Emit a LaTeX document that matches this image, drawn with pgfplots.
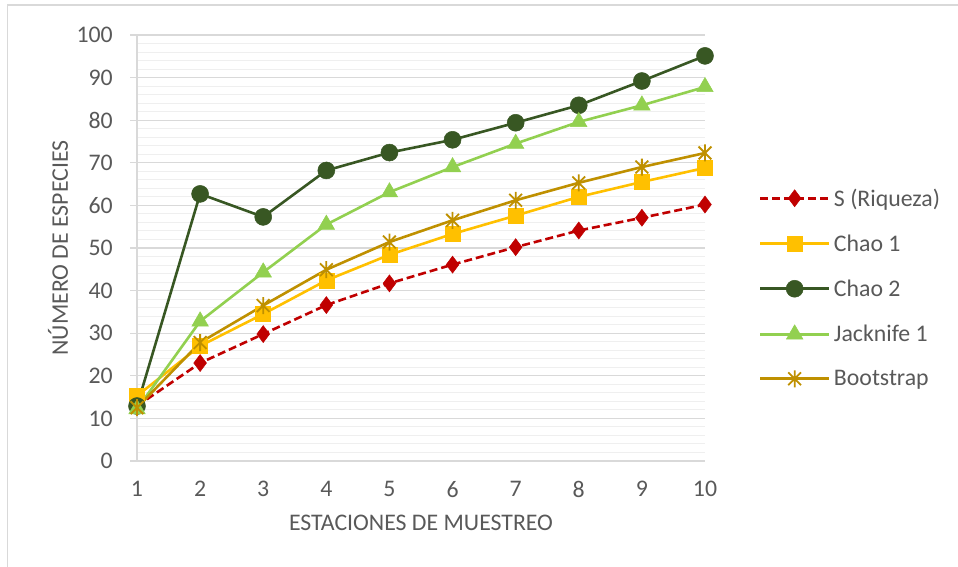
\documentclass[border=0pt]{standalone}
\usepackage{pgfplots}
\pgfplotsset{compat=1.18}
\usepackage{fontspec}
\setmainfont{Carlito}

\definecolor{txtgray}{HTML}{595959}
\definecolor{gridmaj}{HTML}{D9D9D9}
\definecolor{gridmin}{HTML}{EFEFEF}
\definecolor{cS}{HTML}{C00000}
\definecolor{cChaoA}{HTML}{FFC000}
\definecolor{cChaoB}{HTML}{385723}
\definecolor{cJack}{HTML}{92D050}
\definecolor{cBoot}{HTML}{BF9000}

% asterisk made of a vertical bar and a cross
\pgfdeclareplotmark{xstar}{%
  \pgfpathmoveto{\pgfqpoint{0pt}{\pgfplotmarksize}}%
  \pgfpathlineto{\pgfqpoint{0pt}{-\pgfplotmarksize}}%
  \pgfpathmoveto{\pgfqpoint{-0.75\pgfplotmarksize}{0.75\pgfplotmarksize}}%
  \pgfpathlineto{\pgfqpoint{0.75\pgfplotmarksize}{-0.75\pgfplotmarksize}}%
  \pgfpathmoveto{\pgfqpoint{-0.75\pgfplotmarksize}{-0.75\pgfplotmarksize}}%
  \pgfpathlineto{\pgfqpoint{0.75\pgfplotmarksize}{0.75\pgfplotmarksize}}%
  \pgfusepathqstroke}

\newcommand{\chartfont}{\fontsize{23.8}{28}\selectfont}

\begin{document}
\begin{tikzpicture}
\useasboundingbox (0pt,0pt) rectangle (958pt,567pt);
\draw[gridmaj, line width=1.3pt] (7.5pt,-50pt) -- (7.5pt,562pt) -- (1000pt,562pt);
\begin{axis}[
  at={(137pt,106pt)}, anchor=south west,
  scale only axis, width=568pt, height=426pt,
  xmin=1, xmax=10, ymin=0, ymax=100,
  xtick={1,...,10}, ytick={0,10,...,100},
  minor y tick num=4,
  ymajorgrids, yminorgrids,
  major grid style={gridmaj, line width=1.2pt},
  minor grid style={gridmin, line width=1pt},
  axis x line*=bottom, axis y line*=left,
  axis line style={gridmaj, line width=1.2pt, -},
  tick align=outside, major tick length=7pt, minor tick length=0pt,
  ytick style={gridmaj, line width=1.2pt},
  xtick style={draw=none},
  /pgf/number format/assume math mode=true,
  tick label style={font=\chartfont, text=txtgray},
  yticklabel style={anchor=east, inner sep=0pt, xshift=-17pt},
  xticklabel style={anchor=north, inner sep=0pt, yshift=-13pt},
  label style={font=\chartfont, text=txtgray},
  xlabel={ESTACIONES DE MUESTREO},
  ylabel={NÚMERO DE ESPECIES},
  xlabel style={at={(axis description cs:0.5,-0.1455)}, anchor=center},
  ylabel style={at={(axis description cs:-0.139,0.5)}, anchor=center},
  legend cell align=left,
  legend style={at={(1.0945,0.406)}, anchor=west, draw=none, fill=none,
    font=\chartfont, text=txtgray, row sep=27pt, inner sep=0pt,
    nodes={inner xsep=3.5pt, inner ysep=0pt}},
  legend image code/.code={\draw[mark repeat=2,mark phase=2,#1]
    plot coordinates {(0pt,0pt) (34.5pt,0pt) (69pt,0pt)};},
  every axis plot/.append style={line width=2.6pt},
]
\addplot[cS, dash pattern=on 8pt off 4pt, mark=diamond*, mark size=8.5pt,
  mark options={solid, fill=cS, line width=0.5pt}]
  coordinates {(1,12.9) (2,23.0) (3,29.8) (4,36.6) (5,41.7) (6,46.1) (7,50.2) (8,54.1) (9,57.1) (10,60.2)};
\addlegendentry{S (Riqueza)}
\addplot[cChaoA, mark=square*, mark size=7.5pt, mark options={fill=cChaoA, line width=0.5pt}]
  coordinates {(1,15.3) (2,27.0) (3,34.5) (4,42.4) (5,48.4) (6,53.3) (7,57.6) (8,62.0) (9,65.5) (10,68.8)};
\addlegendentry{Chao 1}
\addplot[cChaoB, mark=*, mark size=8.5pt, mark options={fill=cChaoB, line width=0.5pt}]
  coordinates {(1,12.9) (2,62.7) (3,57.3) (4,68.2) (5,72.4) (6,75.4) (7,79.4) (8,83.5) (9,89.2) (10,95.1)};
\addlegendentry{Chao 2}
\addplot[cJack, mark=triangle*, mark size=9.5pt, mark options={fill=cJack, line width=0.5pt}]
  coordinates {(1,12.2) (2,32.8) (3,44.3) (4,55.5) (5,63.1) (6,69.0) (7,74.5) (8,79.6) (9,83.5) (10,87.8)};
\addlegendentry{Jacknife 1}
\addplot[cBoot, mark=xstar, mark size=8.5pt, mark options={line width=1.8pt}]
  coordinates {(1,12.5) (2,27.8) (3,36.5) (4,44.9) (5,51.4) (6,56.5) (7,61.2) (8,65.3) (9,69.0) (10,72.3)};
\addlegendentry{Bootstrap}
\end{axis}
\end{tikzpicture}
\end{document}
